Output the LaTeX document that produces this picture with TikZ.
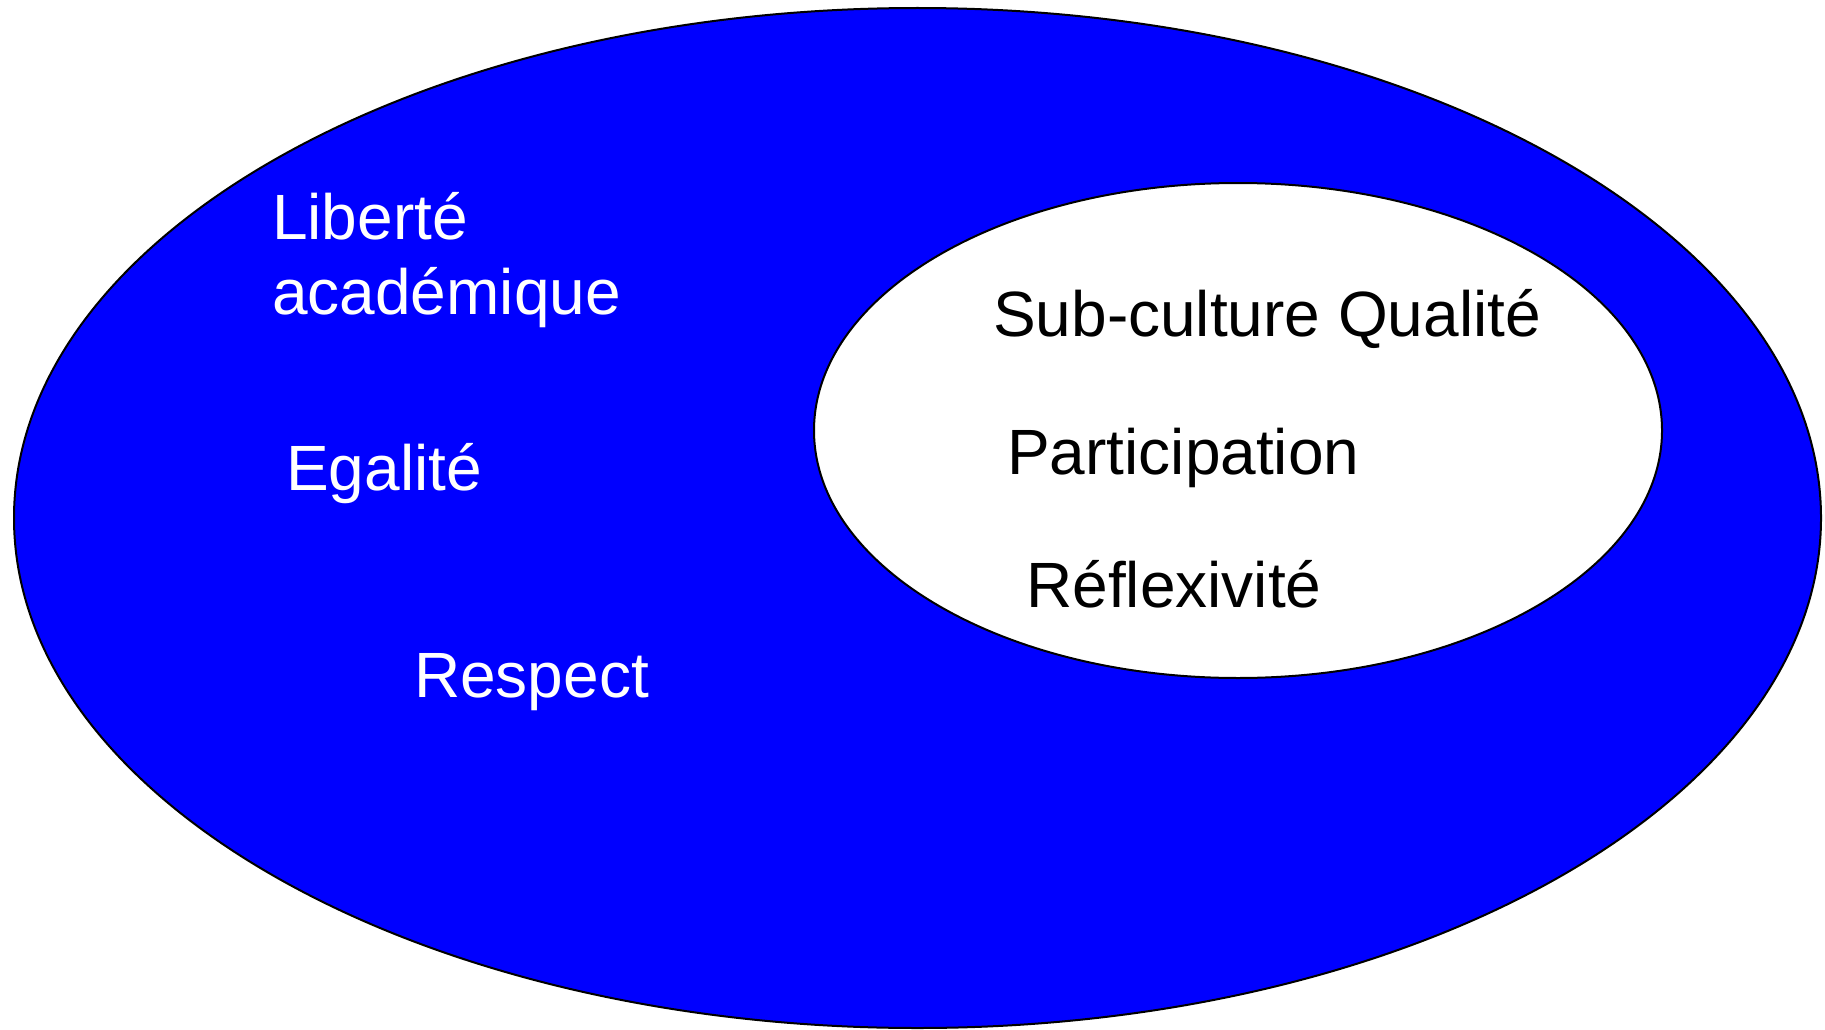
\documentclass[tikz,border=0pt]{standalone}
\usepackage{fontspec}
\setmainfont{Liberation Sans}
\usepackage{tikz}
\usetikzlibrary{positioning}
\definecolor{pureblue}{rgb}{0,0,1}

\begin{document}
\begin{tikzpicture}[x=1pt, y=-1pt,
    value/.style={anchor=base west, inner sep=0pt, font=\fontsize{64}{75}\selectfont, align=left},
    outer/.style={value, text=white},
    inner/.style={value, text=black}]
\useasboundingbox (0,0) rectangle (1825,1030);
% the two cultures
\draw[line width=2pt, fill=pureblue] (917.5,518) ellipse [x radius=903.5pt, y radius=510pt];
\draw[line width=2pt, fill=white] (1238,430.5) ellipse [x radius=424pt, y radius=247.5pt];
% outer values
\node[outer] (liberte) at (272,314) {Libert\'e\\acad\'emique};
\node[outer] (egalite) at (286,490) {Egalit\'e};
\node[outer] (respect) at (414,697) {Respect};
% inner values
\node[inner] (subculture) at (993,336) {Sub-culture Qualit\'e};
\node[inner] (participation) at (1007,474) {Participation};
\node[inner] (reflexivite) at (1026,607) {R\'eflexivit\'e};
\end{tikzpicture}
\end{document}
